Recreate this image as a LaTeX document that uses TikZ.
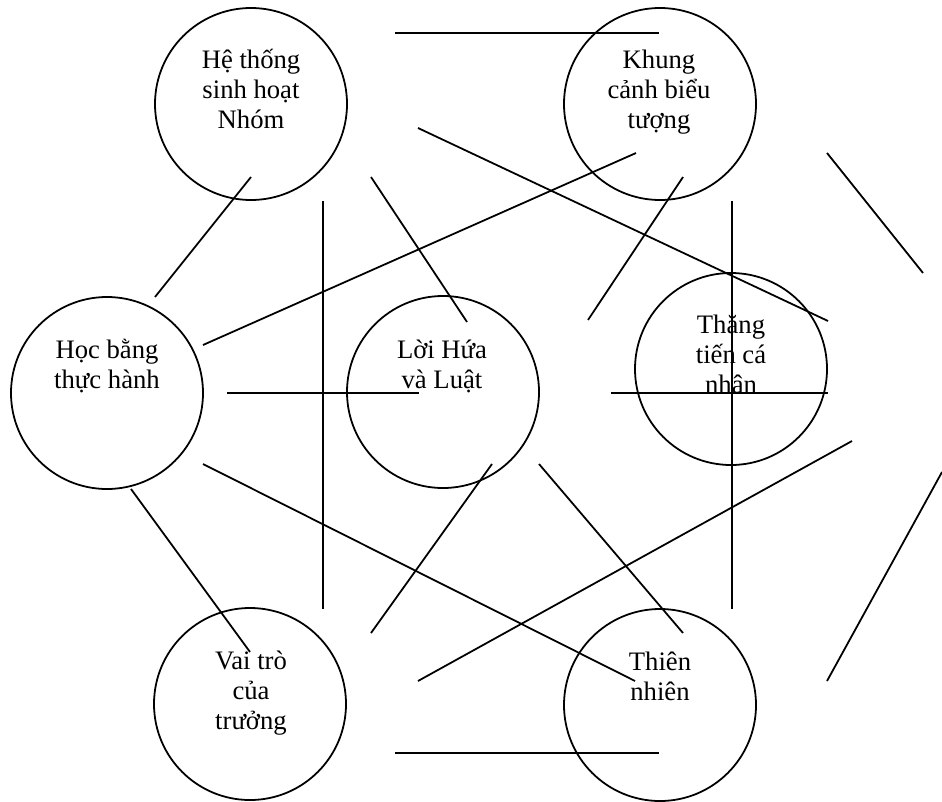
\documentclass[tikz,border=0pt]{standalone}
\usepackage{fontspec}
\setmainfont{Liberation Serif}
\usepackage{tikz}

\tikzset{
  topic/.style={circle, draw, line width=0.8pt, minimum size=86.4pt, inner sep=0pt},
  topictext/.style={align=center, anchor=base, inner sep=0pt, font=\fontsize{12}{13.5}\selectfont},
  link/.style={line width=0.8pt},
}

\begin{document}
\begin{tikzpicture}[x=0.45pt, y=-0.45pt]
    \useasboundingbox (0,0) rectangle (942,801);

    % circles
    \node[topic] (hethong) at (251,104) {};
    \node[topic] (khung) at (660,104) {};
    \node[topic] (hoc) at (107,393) {};
    \node[topic] (loihua) at (443,392) {};
    \node[topic] (thangtien) at (731,369) {};
    \node[topic] (vaitro) at (250,704) {};
    \node[topic] (thiennhien) at (660,705) {};

    % texts (placed at the baseline of their last line)
    \node[topictext] (hethongtxt) at (251,129) {Hệ thống\\sinh hoạt\\Nhóm};
    \node[topictext] (khungtxt) at (659,129) {Khung\\cảnh biểu\\tượng};
    \node[topictext] (hoctxt) at (107,388) {Học bằng\\thực hành};
    \node[topictext] (loihuatxt) at (442,388) {Lời Hứa\\và Luật};
    \node[topictext] (thangtientxt) at (731,393) {Thăng\\tiến cá\\nhân};
    \node[topictext] (vaitrotxt) at (251,729) {Vai trò\\của\\trưởng};
    \node[topictext] (thiennhientxt) at (660,700) {Thiên\\nhiên};

    % loose lines
    \draw[link] (395,33) -- (659,33);
    \draw[link] (395,753) -- (659,753);
    \draw[link] (323,201) -- (323,609);
    \draw[link] (732,201) -- (732,609);
    \draw[link] (227,393) -- (419,393);
    \draw[link] (611,393) -- (828,393);
    \draw[link] (251,177) -- (155,297);
    \draw[link] (371,177) -- (467,322);
    \draw[link] (418,128) -- (828,321);
    \draw[link] (636,153) -- (203,345);
    \draw[link] (683,177) -- (588,320);
    \draw[link] (827,153) -- (923,273);
    \draw[link] (942,472) -- (827,681);
    \draw[link] (203,464) -- (635,681);
    \draw[link] (131,489) -- (250,652);
    \draw[link] (492,464) -- (371,633);
    \draw[link] (539,464) -- (683,633);
    \draw[link] (852,441) -- (418,681);
\end{tikzpicture}
\end{document}
